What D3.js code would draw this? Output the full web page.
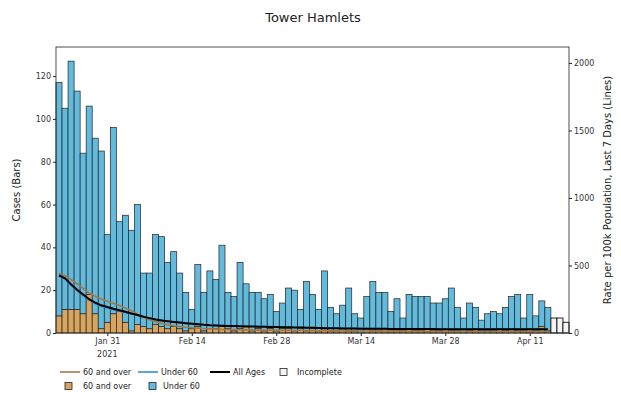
<!DOCTYPE html>
<html>
<head>
<meta charset="utf-8">
<script src="https://cdn.jsdelivr.net/npm/d3@7"></script>
<style>
  body { margin: 0; background: #fff; }
  #chart { width: 621px; height: 395px; }
  text { font-family: "DejaVu Sans", sans-serif; fill: #222; }
  .axis text { font-size: 8px; fill: #333; }
  .axis path, .axis line { stroke: #222; }
</style>
</head>
<body>
<div id="chart"></div>
<script>
// first bar is 23 Jan 2021, one bar per day
const firstDay = new Date(2021, 0, 23);

// total cases per day (bar heights)
const totalCases = [117,105,127,113,84,106,91,85,46,96,52,55,48,60,28,
    28,46,45,33,38,28,19,11,32,19,29,25,41,19,17,
    33,23,19,19,16,18,10,14,21,20,11,24,18,11,29,
    12,9,13,21,9,7,17,24,19,19,10,16,7,18,17,
    17,17,14,14,16,21,12,7,14,12,6,9,10,9,12,
    17,18,7,18,8,15,12,7,7,5];

// cases aged 60 and over (bottom of stack)
const over60Cases = [8,11,11,11,9,18,9,2,5,9,10,5,1,4,3,
    2,4,3,2,3,2,1,2,3,1,2,2,3,2,1,
    2,3,1,2,1,2,1,2,2,1,2,1,2,1,2,
    1,1,2,1,1,0,2,1,1,2,1,1,1,2,1,
    1,2,1,1,2,1,1,0,1,2,1,1,1,2,1,
    2,1,1,2,1,3,1,1,1,0];

// last days still incomplete
const incompleteCount = 3;

// 7 day rates per 100k (lines), from 23 Jan to 14 Apr
const rateAll = [427,405,360,320,285,250,225,205,192,180,168,157,145,133,120,
    110,100,93,87,82,77,73,69,65,61,58,56,54,52,51,
    50,49,48,47,46,45,44,43,42,41,40,39,38,37,36,
    35,35,34,33,33,32,32,31,31,31,30,30,30,30,29,
    29,29,29,28,28,28,28,27,27,27,27,27,27,27,27,
    27,27,27,28,28,28,28];

const rateOver60 = [440,425,395,365,330,295,272,252,236,220,203,185,165,140,118,
    98,84,72,62,54,48,43,39,36,33,31,29,27,26,25,
    24,23,22,21,21,20,20,19,19,18,18,18,17,17,17,
    16,16,16,15,15,15,15,14,14,14,14,14,13,13,13,
    13,13,12,12,12,12,12,12,11,11,11,11,11,11,11,
    11,11,12,12,12,12,12];

const rateUnder60 = [420,400,352,312,278,243,218,198,185,173,161,151,141,132,120,
    111,102,95,89,84,79,75,71,67,63,60,58,56,54,53,
    52,51,50,49,48,47,46,45,44,43,42,41,40,39,38,
    37,37,36,35,35,34,34,33,33,33,32,32,32,32,31,
    31,31,31,30,30,30,30,29,29,29,29,29,29,29,29,
    29,29,29,30,30,30,30];

const leftTicks = [0,20,40,60,80,100,120];
const rightTicks = [0,500,1000,1500,2000];
const xTickDates = [new Date(2021,0,31), new Date(2021,1,14), new Date(2021,1,28),
    new Date(2021,2,14), new Date(2021,2,28), new Date(2021,3,11)];

const colors = {over60: "#d9a55e", under60: "#62bbdd", incomplete: "#f4f4f4",
    lineOver60: "#a0784a", lineUnder60: "#3a8fc0", lineAll: "#000"};

const width = 621, height = 395;
const margin = {top: 47, left: 56, right: 52, bottom: 62};

const svg = d3.select("#chart").append("svg")
    .attr("width", width).attr("height", height);

const dayOf = i => d3.timeDay.offset(firstDay, i);

const xScale = d3.scaleTime()
    .domain([d3.timeHour.offset(firstDay, -12), d3.timeHour.offset(dayOf(totalCases.length - 1), 12)])
    .range([margin.left, width - margin.right]);

const yLeft = d3.scaleLinear().domain([0, 133.6]).range([height - margin.bottom, margin.top]);
const yRight = d3.scaleLinear().domain([0, 2118]).range([height - margin.bottom, margin.top]);

const dayW = xScale(dayOf(1)) - xScale(dayOf(0));

const rows = totalCases.map((t, i) => ({
    date: dayOf(i), total: t, over60: over60Cases[i],
    incomplete: i >= totalCases.length - incompleteCount
}));

/* BARS */
const barG = svg.append("g");
rows.forEach(function(d) {
    const x0 = xScale(d.date) - dayW / 2;
    if (d.incomplete) {
        barG.append("rect")
            .attr("x", x0).attr("width", dayW)
            .attr("y", yLeft(d.total)).attr("height", yLeft(0) - yLeft(d.total))
            .attr("fill", colors.incomplete).attr("stroke", "#111").attr("stroke-width", 0.9);
        return;
    }
    barG.append("rect")
        .attr("x", x0).attr("width", dayW)
        .attr("y", yLeft(d.over60)).attr("height", yLeft(0) - yLeft(d.over60))
        .attr("fill", colors.over60).attr("stroke", "#222").attr("stroke-width", 0.7);
    barG.append("rect")
        .attr("x", x0).attr("width", dayW)
        .attr("y", yLeft(d.total)).attr("height", yLeft(d.over60) - yLeft(d.total))
        .attr("fill", colors.under60).attr("stroke", "#222").attr("stroke-width", 0.7);
});

/* LINES */
const line = d3.line()
    .x((d, i) => xScale(dayOf(i)))
    .y(d => yRight(d));

svg.append("path").datum(rateOver60).attr("d", line)
    .attr("fill", "none").attr("stroke", colors.lineOver60).attr("stroke-width", 1.6);
svg.append("path").datum(rateUnder60).attr("d", line)
    .attr("fill", "none").attr("stroke", colors.lineUnder60).attr("stroke-width", 1.6);
svg.append("path").datum(rateAll).attr("d", line)
    .attr("fill", "none").attr("stroke", colors.lineAll).attr("stroke-width", 2);

/* FRAME + AXES */
svg.append("rect")
    .attr("x", margin.left).attr("y", margin.top)
    .attr("width", width - margin.left - margin.right)
    .attr("height", height - margin.top - margin.bottom)
    .attr("fill", "none").attr("stroke", "#222").attr("stroke-width", 0.8);

svg.append("g").attr("class", "axis")
    .attr("transform", `translate(${margin.left},0)`)
    .call(d3.axisLeft(yLeft).tickValues(leftTicks).tickSize(3).tickPadding(2))
    .call(g => g.select(".domain").remove());

svg.append("g").attr("class", "axis")
    .attr("transform", `translate(${width - margin.right},0)`)
    .call(d3.axisRight(yRight).tickValues(rightTicks).tickSize(3).tickPadding(2)
        .tickFormat(d3.format("d")))
    .call(g => g.select(".domain").remove());

const xAxis = svg.append("g").attr("class", "axis")
    .attr("transform", `translate(0,${height - margin.bottom})`)
    .call(d3.axisBottom(xScale).tickValues(xTickDates).tickSize(3).tickPadding(2)
        .tickFormat(d3.timeFormat("%b %d")))
    .call(g => g.select(".domain").remove());

xAxis.append("text")
    .attr("x", xScale(xTickDates[0])).attr("y", 24)
    .attr("text-anchor", "middle").style("font-size", "8px")
    .text("2021");

/* TITLES */
svg.append("text")
    .attr("x", 313).attr("y", 22)
    .attr("text-anchor", "middle").style("font-size", "13px")
    .text("Tower Hamlets");

svg.append("text")
    .attr("transform", "rotate(-90)")
    .attr("x", -190).attr("y", 20)
    .attr("text-anchor", "middle").style("font-size", "10px")
    .text("Cases (Bars)");

svg.append("text")
    .attr("transform", "rotate(-90)")
    .attr("x", -190).attr("y", 611)
    .attr("text-anchor", "middle").style("font-size", "10px")
    .text("Rate per 100k Population, Last 7 Days (Lines)");

/* LEGEND */
const legend = svg.append("g").style("font-size", "8px");
const lineItems = [
    {label: "60 and over", color: colors.lineOver60, x: 60, w: 1.6},
    {label: "Under 60", color: colors.lineUnder60, x: 138, w: 1.6},
    {label: "All Ages", color: colors.lineAll, x: 210, w: 2}
];
lineItems.forEach(function(d) {
    legend.append("line")
        .attr("x1", d.x).attr("x2", d.x + 20).attr("y1", 372).attr("y2", 372)
        .attr("stroke", d.color).attr("stroke-width", d.w);
    legend.append("text").attr("x", d.x + 23).attr("y", 375).text(d.label);
});
const boxItems = [
    {label: "Incomplete", color: colors.incomplete, x: 280, y: 372, tx: 297},
    {label: "60 and over", color: colors.over60, x: 65, y: 386, tx: 83},
    {label: "Under 60", color: colors.under60, x: 149, y: 386, tx: 163}
];
boxItems.forEach(function(d) {
    legend.append("rect")
        .attr("x", d.x).attr("y", d.y - 3.5).attr("width", 7).attr("height", 7)
        .attr("fill", d.color).attr("stroke", "#222").attr("stroke-width", 0.8);
    legend.append("text").attr("x", d.tx).attr("y", d.y + 3).text(d.label);
});
</script>
</body>
</html>
